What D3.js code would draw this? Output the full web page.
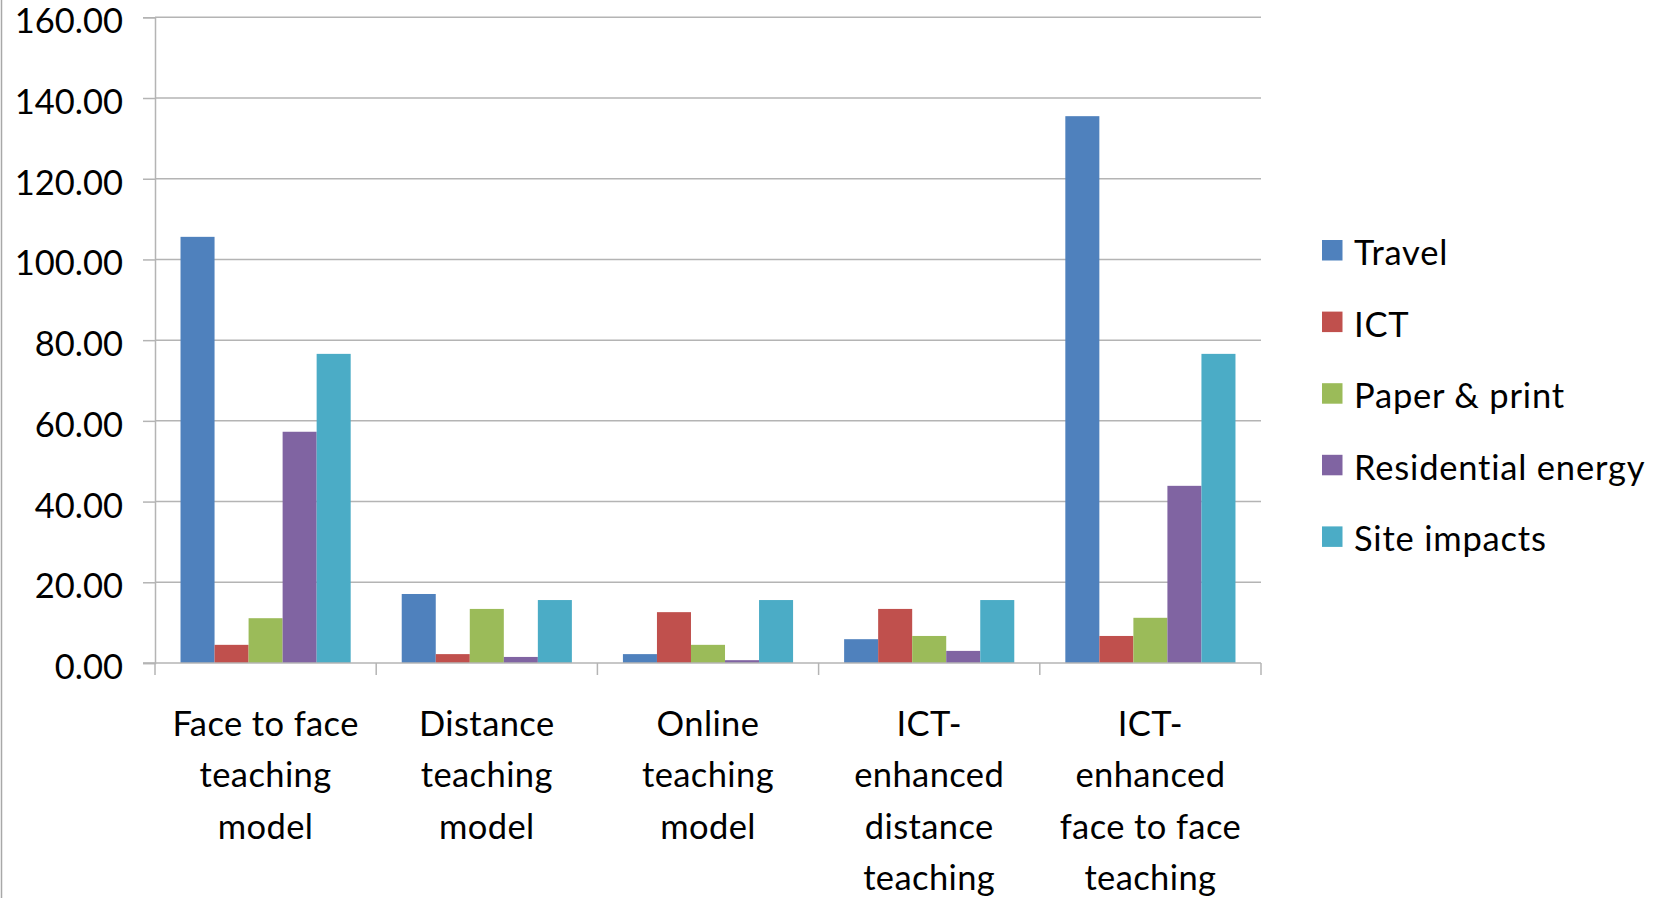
<!DOCTYPE html>
<html>
<head>
<meta charset="utf-8">
<script src="https://cdn.jsdelivr.net/npm/d3@7"></script>
<style>
  html, body { margin: 0; padding: 0; background: #fff; }
  svg { display: block; }
  text { font-family: Lato, "Open Sans", sans-serif; fill: #000; }
</style>
</head>
<body>
<svg id="chart" width="1661" height="898"></svg>
<script>
// Teaching models (line breaks as shown under the axis)
const categories = [
  "Face to face\nteaching\nmodel",
  "Distance\nteaching\nmodel",
  "Online\nteaching\nmodel",
  "ICT-\nenhanced\ndistance\nteaching",
  "ICT-\nenhanced\nface to face\nteaching"
];
const seriesNames = ["Travel", "ICT", "Paper & print", "Residential energy", "Site impacts"];
const seriesColors = ["#4F81BD", "#C0504D", "#9BBB59", "#8064A2", "#4BACC6"];

// Values per series, one entry per teaching model
const travel      = [105.6, 17.1, 2.2, 5.9, 135.5];
const ict         = [4.5, 2.2, 12.6, 13.4, 6.7];
const paperPrint  = [11.1, 13.4, 4.5, 6.7, 11.2];
const residential = [57.3, 1.5, 0.7, 3.0, 43.9];
const siteImpacts = [76.6, 15.6, 15.6, 15.6, 76.6];

const yTicks = [0, 20, 40, 60, 80, 100, 120, 140, 160];

const seriesValues = [travel, ict, paperPrint, residential, siteImpacts];

const svg = d3.select("#chart");
const plot = { left: 155, right: 1261, top: 17.3, bottom: 663 };

const x0 = d3.scaleBand().domain(d3.range(categories.length))
  .range([plot.left, plot.right]).paddingInner(0).paddingOuter(0);
const x1 = d3.scaleBand().domain(d3.range(seriesNames.length))
  .range([0, x0.bandwidth()]).paddingInner(0).paddingOuter(0.75);
const y = d3.scaleLinear().domain([0, 160]).range([plot.bottom, plot.top]);

const gridColor = "#b4b4b4";

// outer border on the left edge
svg.append("line").attr("x1", 1.5).attr("x2", 1.5).attr("y1", 0).attr("y2", 898)
  .attr("stroke", "#a8a8a8").attr("stroke-width", 1.5);

// horizontal gridlines
svg.append("g").selectAll("line").data(yTicks.filter(d => d > 0)).join("line")
  .attr("x1", plot.left).attr("x2", plot.right)
  .attr("y1", d => y(d)).attr("y2", d => y(d))
  .attr("stroke", gridColor).attr("stroke-width", 1.5);

// y axis
const yAxis = svg.append("g").attr("transform", `translate(${plot.left},0)`)
  .call(d3.axisLeft(y).tickValues(yTicks).tickFormat(d3.format(".2f")).tickSize(12).tickPadding(20));
yAxis.select(".domain").attr("stroke", gridColor).attr("stroke-width", 1.5);
yAxis.selectAll(".tick line").attr("stroke", gridColor).attr("stroke-width", 1.5);
yAxis.selectAll(".tick text")
  .style("font-family", "Lato, 'Open Sans', sans-serif")
  .style("font-size", "34.5px").attr("fill", "#000").attr("dy", "0.45em");

// bars
const groups = svg.append("g").selectAll("g").data(categories).join("g")
  .attr("transform", (d, i) => `translate(${x0(i)},0)`);
groups.selectAll("rect")
  .data((d, i) => seriesValues.map((vals, s) => ({ s, v: vals[i] })))
  .join("rect")
  .attr("x", d => x1(d.s))
  .attr("width", x1.bandwidth())
  .attr("y", d => y(d.v))
  .attr("height", d => y(0) - y(d.v))
  .attr("fill", d => seriesColors[d.s]);

// x axis baseline and category boundary ticks
svg.append("line").attr("x1", plot.left - 12).attr("x2", plot.right)
  .attr("y1", y(0)).attr("y2", y(0)).attr("stroke", gridColor).attr("stroke-width", 1.5);
const bounds = categories.map((d, i) => x0(i)).concat([plot.right]);
svg.append("g").selectAll("line").data(bounds).join("line")
  .attr("x1", d => d).attr("x2", d => d)
  .attr("y1", y(0)).attr("y2", y(0) + 12)
  .attr("stroke", gridColor).attr("stroke-width", 1.5);

// category labels
const lab = svg.append("g").selectAll("text").data(categories).join("text")
  .attr("text-anchor", "middle")
  .style("font-size", "34.5px")
  .style("letter-spacing", "0.4px")
  .attr("x", (d, i) => x0(i) + x0.bandwidth() / 2)
  .attr("y", 736);
lab.selectAll("tspan").data(d => d.split("\n")).join("tspan")
  .attr("x", function () { return this.parentNode.getAttribute("x"); })
  .attr("dy", (d, i) => i === 0 ? 0 : 51.3)
  .text(d => d);

// legend
const legend = svg.append("g").selectAll("g").data(seriesNames).join("g")
  .attr("transform", (d, i) => `translate(1322,${240 + i * 71.6})`);
legend.append("rect").attr("width", 20.5).attr("height", 20.5)
  .attr("fill", (d, i) => seriesColors[i]);
legend.append("text").attr("x", 32).attr("y", 25)
  .style("font-size", "34.5px").style("letter-spacing", "0.8px").text(d => d);
</script>
</body>
</html>
